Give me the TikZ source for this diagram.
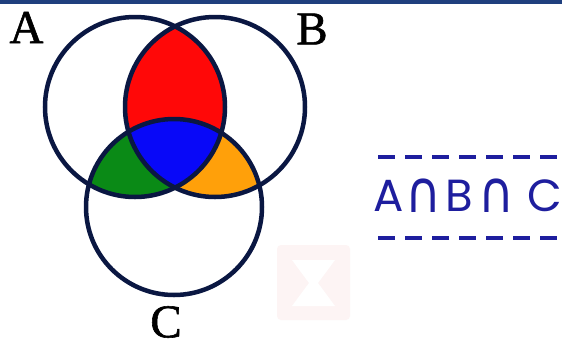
\documentclass[tikz,border=0pt]{standalone}
\usepackage{fontspec}
\setmainfont{Liberation Serif}
\newfontfamily\labfont[FakeBold=1.2]{Liberation Serif}
\newfontfamily\popfont{Poppins}
\newfontfamily\dvsfont{DejaVu Sans}
\definecolor{ringcol}{HTML}{0A1742}
\definecolor{barcol}{HTML}{1F3F7E}
\definecolor{vred}{HTML}{FF0808}
\definecolor{vblue}{HTML}{0808F8}
\definecolor{vgreen}{HTML}{0A8A16}
\definecolor{vorange}{HTML}{FFA00A}
\definecolor{txtblue}{HTML}{1E1E9E}
\definecolor{wmark}{HTML}{FDF4F4}
\tikzset{
  ring/.style={draw=ringcol, line width=4.5pt},
  setlabel/.style={font=\labfont\fontsize{47}{47}\selectfont, inner sep=0pt, text=black},
  dashline/.style={draw=txtblue, line width=4pt, dash pattern=on 17pt off 10pt},
  glyph/.style={inner sep=0pt, text=txtblue, font=\popfont\fontsize{45}{45}\selectfont},
  capglyph/.style={inner sep=0pt, text=txtblue, font=\dvsfont\fontsize{58}{58}\selectfont},
}
\begin{document}
\begin{tikzpicture}[x=1pt,y=-1pt]
\useasboundingbox (0,0) rectangle (562,346);
\fill[white] (0,0) rectangle (562,346);
\fill[barcol] (0,0) rectangle (562,3.5);
% watermark
\fill[wmark, rounded corners=4pt] (277,245) rectangle (350,320);
\fill[white] (292,260) -- (335,260) -- (318,283) -- (335,306) -- (292,306) -- (309,283) -- cycle;
% centres
\coordinate (cA) at (135,107);
\coordinate (cB) at (215,107);
\coordinate (cC) at (174,207);
% colour regions
\begin{scope}
  \clip (cA) circle[radius=90pt];
  \fill[vred] (cB) circle[radius=90pt];
\end{scope}
\begin{scope}
  \clip (cA) circle[radius=90pt];
  \fill[vgreen] (cC) circle[radius=88pt];
\end{scope}
\begin{scope}
  \clip (cB) circle[radius=90pt];
  \fill[vorange] (cC) circle[radius=88pt];
\end{scope}
\begin{scope}
  \clip (cA) circle[radius=90pt];
  \clip (cB) circle[radius=90pt];
  \fill[vblue] (cC) circle[radius=88pt];
\end{scope}
% rings
\node[ring, circle, minimum size=180pt, inner sep=0pt] (A) at (cA) {};
\node[ring, circle, minimum size=180pt, inner sep=0pt] (B) at (cB) {};
\node[ring, circle, minimum size=176pt, inner sep=0pt] (C) at (cC) {};
% labels
\node[setlabel] (labA) at (26.5,27.5) {A};
\node[setlabel] (labB) at (312,29) {B};
\node[setlabel] (labC) at (166,322) {C};
% formula
\coordinate (d1s) at (378,157);
\coordinate (d1e) at (562,157);
\coordinate (d2s) at (378,238);
\coordinate (d2e) at (562,238);
\draw[dashline] (d1s) -- (d1e);
\draw[dashline] (d2s) -- (d2e);
\node[glyph] (g1) at (389,196) {A};
\node[capglyph] (g2) at (424,196) {\scalebox{0.85}[1]{∩}};
\node[glyph] (g3) at (459,196) {B};
\node[capglyph] (g4) at (497,196) {\scalebox{0.85}[1]{∩}};
\node[glyph] (g5) at (545,196) {C};
\end{tikzpicture}
\end{document}
